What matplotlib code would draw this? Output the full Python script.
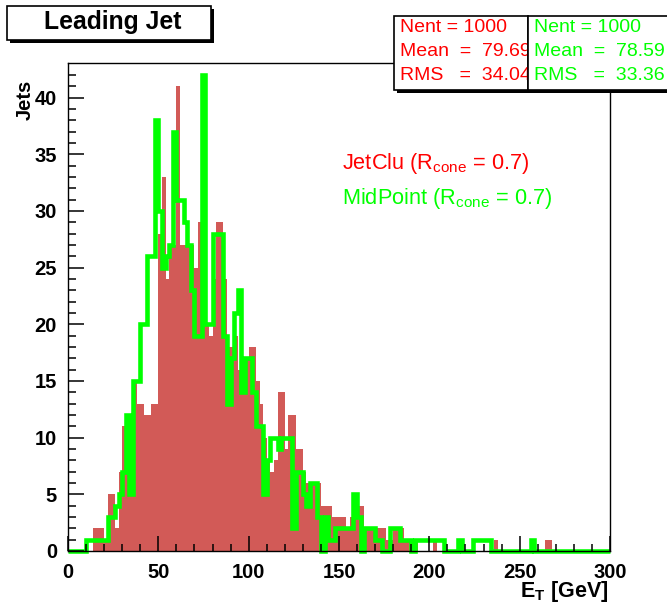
import matplotlib
matplotlib.use("Agg")
import matplotlib.pyplot as plt
import matplotlib.patches as patches
import numpy as np

plt.rcParams['font.family'] = ['Liberation Sans', 'DejaVu Sans']
plt.rcParams['mathtext.fontset'] = 'custom'
plt.rcParams['mathtext.rm'] = 'Liberation Sans'
plt.rcParams['mathtext.it'] = 'Liberation Sans:italic'
plt.rcParams['mathtext.bf'] = 'Liberation Sans:bold'

# histogram binning: 150 bins of 2 GeV from 0 to 300
bin_width = 2
x_min, x_max = 0, 300

# JetClu leading jet E_T counts per bin
jetclu = [0, 0, 0, 0, 0, 0, 0,
          2, 2, 2, 1,
          5, 5, 2, 7, 11,
          10, 12, 15, 13, 13, 12, 12, 13, 13,
          28, 33, 24, 27, 27, 41, 27, 27, 27, 27, 25, 29, 28,
          20, 19, 24, 29, 29, 24, 18, 18, 19,
          16, 15, 17, 18, 18, 15, 13, 10, 8, 7, 8,
          14, 14, 9, 12, 12, 9, 9, 7, 6, 6, 6, 6,
          4, 4, 4, 3, 3, 3, 3, 2, 3, 3,
          4, 4, 2, 2, 2, 2, 2, 2, 1, 1,
          2, 2, 2, 1, 1, 1, 1,
          0, 0, 0, 0,
          1,
          0, 0, 0, 0, 0, 0, 0, 0, 0, 0, 0, 0, 0, 0, 0, 0,
          1,
          0, 0, 0, 0, 0, 0, 0, 0, 0, 0, 0, 0, 0,
          1, 1,
          0, 0, 0, 0, 0, 0, 0, 0, 0, 0, 0, 0, 0, 0, 0, 0]

# MidPoint leading jet E_T counts per bin
midpoint = [0, 0, 0, 0, 0,
            1, 1, 1, 1, 1, 1,
            3, 3, 4, 5, 7, 12, 5, 15, 15, 20, 20, 26, 26, 38,
            30, 25, 26, 27, 37, 31, 31, 29, 27, 23, 19, 19, 42,
            20, 20, 28, 28, 28, 19, 13, 17, 21, 23,
            14, 17, 17, 14, 11, 11, 5, 8, 10, 10, 9, 10, 10, 10, 2,
            7, 7, 5, 4, 6, 6, 3,
            0,
            3, 1, 1, 2, 2, 2, 2, 2,
            5, 3, 0, 2, 2, 2, 1, 1, 0, 0,
            2, 2, 2, 1, 1, 1, 0,
            1, 1, 1, 1, 1, 1, 1, 1,
            0, 0, 0, 0,
            1,
            0, 0, 0,
            1, 1, 1, 1, 1,
            0, 0, 0, 0, 0, 0, 0, 0, 0, 0, 0,
            1,
            0, 0, 0, 0, 0, 0, 0, 0, 0, 0, 0, 0, 0, 0, 0, 0, 0, 0, 0, 0, 0]

red_stats = ["Nent = 1000", "Mean  =  79.69", "RMS   =  34.04"]
green_stats = ["Nent = 1000", "Mean  =  78.59", "RMS   =  33.36"]
x_ticks = [0, 50, 100, 150, 200, 250, 300]
y_ticks = [0, 5, 10, 15, 20, 25, 30, 35, 40]

edges = np.arange(x_min, x_max + bin_width, bin_width)

W, H = 667, 603
fig = plt.figure(figsize=(W / 100, H / 100), dpi=100)


def fx(px):
    return px / W


def fy(py):
    return 1 - py / H


ax = fig.add_axes([fx(68), fy(551), fx(610) - fx(68), fy(63) - fy(551)])
ax.stairs(jetclu, edges, fill=True, color='#d25a57', zorder=1)
ax.stairs(midpoint, edges, baseline=0, color='#00ff00', linewidth=3.3,
          zorder=2, clip_on=False)

ax.set_xlim(x_min, x_max)
ax.set_ylim(0, max(jetclu) * 1.05)
ax.set_axisbelow(False)
ax.set_xticks(x_ticks)
ax.set_yticks(y_ticks)
ax.set_xticks(np.arange(0, 301, 10), minor=True)
ax.set_yticks(np.arange(0, 43, 1), minor=True)
ax.tick_params(axis='both', which='both', direction='in', top=False, right=False,
               width=1.1, labelsize=14.5)
ax.tick_params(axis='x', which='major', length=10.5, pad=9)
ax.tick_params(axis='x', which='minor', length=5.3)
ax.tick_params(axis='y', which='major', length=11.5, pad=8)
ax.tick_params(axis='y', which='minor', length=5.8)
for lab in ax.get_xticklabels() + ax.get_yticklabels():
    lab.set_fontweight('bold')
for sp in ax.spines.values():
    sp.set_linewidth(1.0)
    sp.set_zorder(3)

# axis titles
fig.text(fx(25), fy(100), "Jets", rotation=90, ha='center', va='center',
         fontsize=14.5, fontweight='bold')
fig.text(fx(608), fy(592), r"$\mathbf{E_T}$ [GeV]", ha='right', va='center',
         fontsize=15.5, fontweight='bold')

# legend-like labels
fig.text(fx(342), fy(163), r"JetClu (R$_{\mathrm{cone}}$ = 0.7)", color='#ff0000',
         ha='left', va='center', fontsize=15.7)
fig.text(fx(342), fy(198), r"MidPoint (R$_{\mathrm{cone}}$ = 0.7)", color='#00ff00',
         ha='left', va='center', fontsize=15.7)


def box(x0, y0, x1, y1, z, shadow=3):
    fig.patches.append(patches.Rectangle((fx(x0 + shadow), fy(y1 + shadow)),
                                         fx(x1 - x0), fy(y0) - fy(y1),
                                         transform=fig.transFigure, facecolor='black',
                                         edgecolor='none', zorder=z))
    fig.patches.append(patches.Rectangle((fx(x0), fy(y1)), fx(x1 - x0), fy(y0) - fy(y1),
                                         transform=fig.transFigure, facecolor='white',
                                         edgecolor='black', linewidth=1.2, zorder=z + 0.1))


# title box
box(7, 6, 211, 40, 10)
fig.text(fx(113), fy(22), "Leading Jet", ha='center', va='center',
         fontsize=17.8, fontweight='bold', zorder=11)

# stat boxes
box(394, 16, 528, 90, 10)
for i, s in enumerate(red_stats):
    fig.text(fx(400), fy(28 + 24 * i), s, color='#ff0000', ha='left', va='center',
             fontsize=14, zorder=10.5)
box(528, 16, 672, 90, 12)
for i, s in enumerate(green_stats):
    fig.text(fx(534), fy(28 + 24 * i), s, color='#00ff00', ha='left', va='center',
             fontsize=14, zorder=12.5)

fig.savefig("out.png", dpi=100)
